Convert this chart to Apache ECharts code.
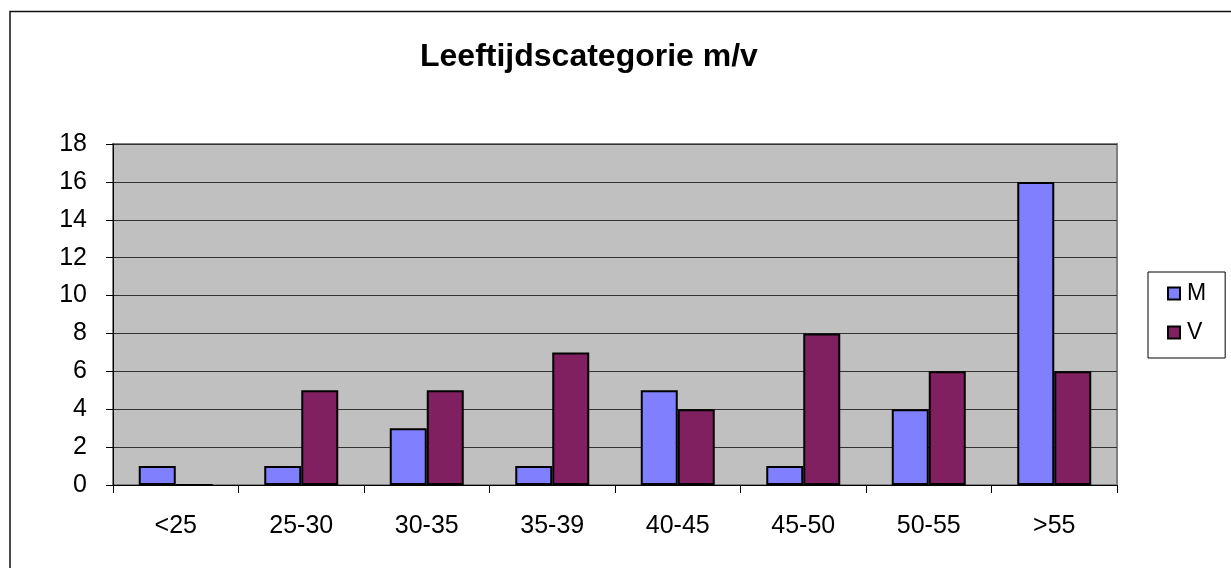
<!DOCTYPE html>
<html>
<head>
<meta charset="utf-8">
<script src="https://cdn.jsdelivr.net/npm/echarts@6/dist/echarts.min.js"></script>
<style>
  html, body { margin: 0; padding: 0; background: #fff; }
  #chart { width: 1231px; height: 568px; }
</style>
</head>
<body>
<div id="chart"></div>
<script>
// leeftijdscategorieen
const categories = ["<25", "25-30", "30-35", "35-39", "40-45", "45-50", "50-55", ">55"];
const mannen = [1, 1, 3, 1, 5, 1, 4, 16];
const vrouwen = [0, 5, 5, 7, 4, 8, 6, 6];
const yTicks = { min: 0, max: 18, interval: 2 };

const chart = echarts.init(document.getElementById("chart"));

const barStyle = (color) => ({
  color: color,
  borderColor: "#000",
  borderWidth: 2,
});

chart.setOption({
  animation: false,
  textStyle: { fontFamily: "Liberation Sans, Arial, sans-serif", color: "#000" },
  title: {
    text: "Leeftijdscategorie m/v",
    left: 415,
    top: 36,
    textStyle: { fontSize: 32, fontWeight: "bold", color: "#000", fontFamily: "Liberation Sans, Arial, sans-serif" },
  },
  // buitenrand
  graphic: [
    {
      type: "rect",
      shape: { x: 10, y: 11.5, width: 1400, height: 800 },
      style: { fill: "none", stroke: "#111", lineWidth: 1.5 },
      silent: true,
    },
  ],
  legend: {
    orient: "vertical",
    left: 1148,
    top: 272,
    padding: [10, 19, 14, 19],
    itemGap: 16,
    itemWidth: 12,
    itemHeight: 12,
    icon: "rect",
    borderColor: "#000",
    borderWidth: 1,
    textStyle: { fontSize: 23, color: "#000", padding: [0, 0, 0, 2] },
    itemStyle: { borderColor: "#000", borderWidth: 2 },
    data: ["M", "V"],
  },
  grid: {
    left: 113,
    right: 114,
    top: 144,
    bottom: 83,
    show: true,
    backgroundColor: "#C0C0C0",
    borderColor: "#808080",
    borderWidth: 2,
  },
  xAxis: {
    type: "category",
    data: categories,
    axisLine: { lineStyle: { color: "#000", width: 1 } },
    axisTick: { show: true, length: 8, lineStyle: { color: "#000" } },
    axisLabel: { fontSize: 25, color: "#000", margin: 29, interval: 0 },
  },
  yAxis: {
    type: "value",
    min: yTicks.min,
    max: yTicks.max,
    interval: yTicks.interval,
    axisLine: { show: true, lineStyle: { color: "#000", width: 1 } },
    axisTick: { show: true, length: 7, lineStyle: { color: "#000" } },
    axisLabel: { fontSize: 25, color: "#000", margin: 26 },
    splitLine: { lineStyle: { color: "#333", width: 1 } },
  },
  series: [
    {
      name: "M",
      type: "bar",
      data: mannen,
      barWidth: 37,
      barGap: "0%",
      itemStyle: barStyle("#8080FF"),
    },
    {
      name: "V",
      type: "bar",
      data: vrouwen,
      barWidth: 37,
      itemStyle: barStyle("#802060"),
    },
  ],
});
</script>
</body>
</html>
